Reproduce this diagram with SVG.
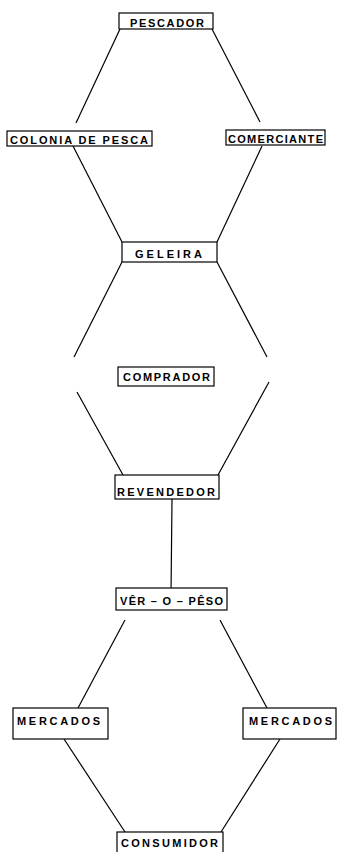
<svg xmlns="http://www.w3.org/2000/svg" width="337" height="852" viewBox="0 0 337 852">
<style>
.b{fill:#fff;stroke:#000;stroke-width:1.2}
.t{font-family:"Liberation Sans",Arial,sans-serif;font-weight:bold;font-size:11px;fill:#000}
.c line{stroke:#000;stroke-width:1.2}
</style>
<rect width="337" height="852" fill="#fff"/>
<g class="c" id="connectors">
<line x1="120" y1="29" x2="76" y2="123"/>
<line x1="212" y1="29" x2="260" y2="122"/>
<line x1="73" y1="146" x2="122" y2="242"/>
<line x1="262" y1="146" x2="217" y2="242"/>
<line x1="122" y1="262" x2="74" y2="357"/>
<line x1="217" y1="262" x2="267" y2="357"/>
<line x1="77" y1="392" x2="123" y2="475"/>
<line x1="269" y1="382" x2="218" y2="475"/>
<line x1="172" y1="499" x2="171" y2="595"/>
<line x1="125" y1="620" x2="78" y2="708"/>
<line x1="220" y1="620" x2="267" y2="708"/>
<line x1="64" y1="739" x2="125" y2="832"/>
<line x1="280" y1="739" x2="221" y2="832"/>
</g>
<g id="pescador"><rect class="b" x="119" y="13" width="94" height="16"/><text class="t" x="130" y="27" textLength="74" lengthAdjust="spacing">PESCADOR</text></g>
<g id="colonia"><rect class="b" x="7" y="131" width="145" height="15"/><text class="t" x="10" y="143.5" textLength="138" lengthAdjust="spacing">COLONIA DE PESCA</text></g>
<g id="comerciante"><rect class="b" x="226" y="130" width="99" height="15"/><text class="t" x="228" y="143" textLength="95" lengthAdjust="spacing">COMERCIANTE</text></g>
<g id="geleira"><rect class="b" x="122" y="242" width="95" height="20"/><text class="t" x="135" y="258" textLength="67" lengthAdjust="spacing">GELEIRA</text></g>
<g id="comprador"><rect class="b" x="118" y="367" width="96" height="19"/><text class="t" x="123" y="381" textLength="87" lengthAdjust="spacing">COMPRADOR</text></g>
<g id="revendedor"><rect class="b" x="115" y="475" width="104" height="24"/><text class="t" x="117" y="496" textLength="98" lengthAdjust="spacing">REVENDEDOR</text></g>
<g id="ver-o-peso"><rect class="b" x="116" y="588" width="111" height="22"/><text class="t" x="120" y="605" textLength="103" lengthAdjust="spacing">VÊR – O – PÊSO</text></g>
<g id="mercados1"><rect class="b" x="13" y="708" width="95" height="31"/><text class="t" x="17" y="725" textLength="83" lengthAdjust="spacing">MERCADOS</text></g>
<g id="mercados2"><rect class="b" x="243" y="708" width="93" height="31"/><text class="t" x="249" y="725" textLength="83" lengthAdjust="spacing">MERCADOS</text></g>
<g id="consumidor"><rect class="b" x="117" y="832" width="106" height="24"/><text class="t" x="121" y="847" textLength="97" lengthAdjust="spacing">CONSUMIDOR</text></g>
</svg>
